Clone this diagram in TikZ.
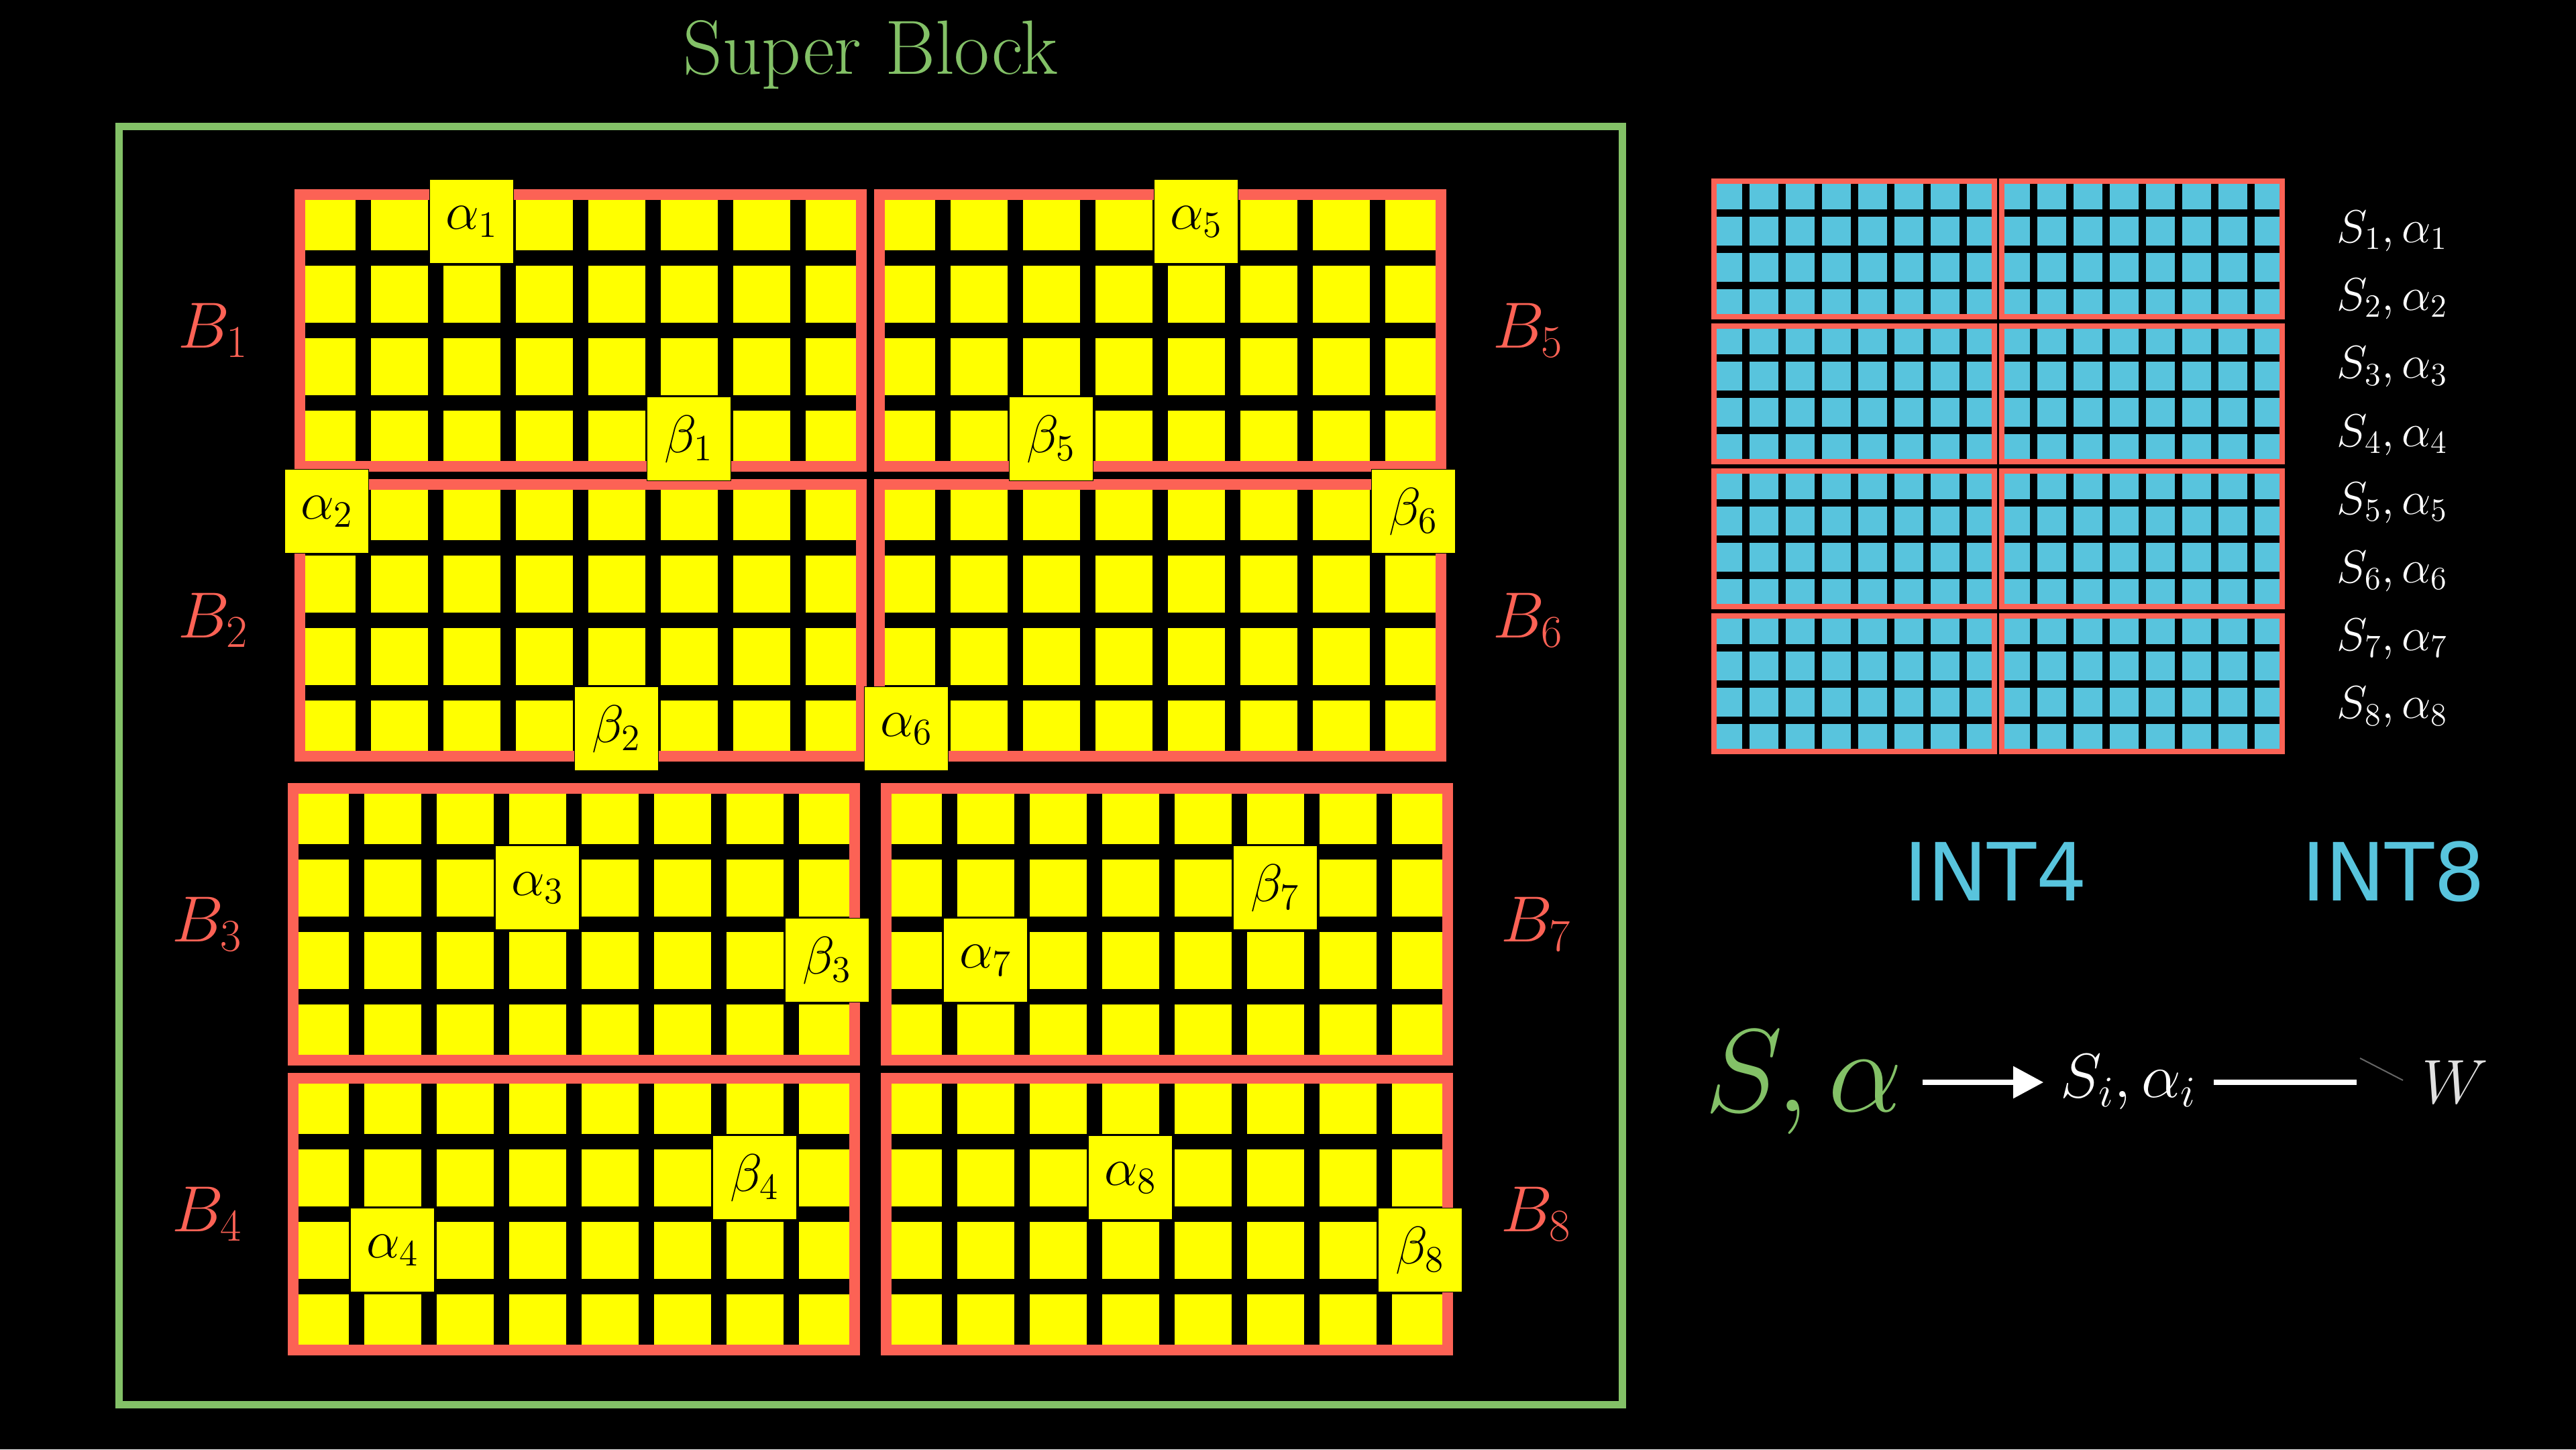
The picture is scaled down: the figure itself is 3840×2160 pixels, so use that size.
\RequirePackage{fix-cm}
\documentclass[tikz,border=0pt]{standalone}
\usepackage{fontspec}
\newfontfamily\intfont{DejaVu Sans}
\usetikzlibrary{arrows.meta,calc}
\definecolor{qgreen}{HTML}{83C167}
\definecolor{qred}{HTML}{FC6255}
\definecolor{qyellow}{HTML}{FFFF00}
\definecolor{qblue}{HTML}{58C4DD}
\tikzset{
  ycell/.style={fill=qyellow},
  ccell/.style={fill=qblue},
  yframe/.style={draw=qred, line width=0.16cm, minimum width=8.37cm, minimum height=4.05cm, inner sep=0pt, outer sep=0pt},
  cframe/.style={draw=qred, line width=0.08cm, minimum width=4.18cm, minimum height=2.02cm, inner sep=0pt, outer sep=0pt},
  lbox/.style={fill=qyellow, draw=black, line width=0.01cm, minimum size=1.25cm, inner sep=0pt, font=\fontsize{22.5}{27}\selectfont},
  blab/.style={text=qred, inner sep=0pt, font=\fontsize{27.6}{33}\selectfont},
  slab/.style={text=white, anchor=base west, inner sep=0pt, font=\fontsize{19.6}{24}\selectfont},
  inttxt/.style={text=qblue, anchor=base, inner sep=0pt, font=\intfont\fontsize{34}{40}\selectfont},
  frm/.style={draw=qgreen, line width=0.11cm, minimum width=22.40cm, minimum height=19.04cm, inner sep=0pt},
  flow/.style={inner sep=0pt},
  wline/.style={white, line width=0.08cm}
}
\newcommand{\ygrid}[3]{%
  \foreach \qc in {0,...,7}{\foreach \qr in {0,...,3}{%
    \fill[ycell] ({#2+\qc*108},{#3+\qr*108}) rectangle ++(85,85);}}
  \node[yframe] (#1) at ({#2+420.5},{#3+204.5}) {};}
\newcommand{\cgrid}[3]{%
  \foreach \qc in {0,...,7}{\foreach \qr in {0,...,3}{%
    \fill[ccell] ({#2+\qc*54},{#3+\qr*54}) rectangle ++(42.5,42.5);}}
  \node[cframe] (#1) at ({#2+210.25},{#3+102.25}) {};}
\newcommand{\qlab}[5]{%
  \node[lbox] (#1) at ($(#2.north west)+({40.5+108*#3},{40.5+108*#4})$) {$#5$};}
\begin{document}
\begin{tikzpicture}[x=0.01cm,y=-0.01cm]
\useasboundingbox (0,0) rectangle (3840,2160);
\fill[black] (0,0) rectangle (3840,2160);

% super block frame and title
\node[frm] (SB) at (1298,1141) {};
\node[anchor=base, text=qgreen, inner sep=0pt, font=\fontsize{32.6}{39}\selectfont] (title) at (1298,110) {Super Block};

% yellow blocks
\ygrid{B1}{445}{288}
\ygrid{B5}{1309}{288}
\ygrid{B2}{445}{720}
\ygrid{B6}{1309}{720}
\ygrid{B3}{435}{1173}
\ygrid{B7}{1319}{1173}
\ygrid{B4}{435}{1605}
\ygrid{B8}{1319}{1605}

% highlighted cells
\qlab{a1}{B1}{2}{0}{\alpha_1}
\qlab{b1}{B1}{5}{3}{\beta_1}
\qlab{a2}{B2}{0}{0}{\alpha_2}
\qlab{b2}{B2}{4}{3}{\beta_2}
\qlab{a3}{B3}{3}{1}{\alpha_3}
\qlab{b3}{B3}{7}{2}{\beta_3}
\qlab{a4}{B4}{1}{2}{\alpha_4}
\qlab{b4}{B4}{6}{1}{\beta_4}
\qlab{a5}{B5}{4}{0}{\alpha_5}
\qlab{b5}{B5}{2}{3}{\beta_5}
\qlab{b6}{B6}{7}{0}{\beta_6}
\qlab{a6}{B6}{0}{3}{\alpha_6}
\qlab{a7}{B7}{1}{2}{\alpha_7}
\qlab{b7}{B7}{5}{1}{\beta_7}
\qlab{a8}{B8}{3}{1}{\alpha_8}
\qlab{b8}{B8}{7}{2}{\beta_8}

% block labels
\node[blab] (lb1) at ($(B1.west)+(-129,0)$) {$B_1$};
\node[blab] (lb2) at ($(B2.west)+(-129,0)$) {$B_2$};
\node[blab] (lb3) at ($(B3.west)+(-128,0)$) {$B_3$};
\node[blab] (lb4) at ($(B4.west)+(-128,0)$) {$B_4$};
\node[blab] (lb5) at ($(B5.east)+(130,0)$) {$B_5$};
\node[blab] (lb6) at ($(B6.east)+(130,0)$) {$B_6$};
\node[blab] (lb7) at ($(B7.east)+(132,0)$) {$B_7$};
\node[blab] (lb8) at ($(B8.east)+(132,0)$) {$B_8$};

% cyan blocks
\cgrid{C1}{2554}{269}
\cgrid{C2}{2983}{269}
\cgrid{C3}{2554}{485}
\cgrid{C4}{2983}{485}
\cgrid{C5}{2554}{701}
\cgrid{C6}{2983}{701}
\cgrid{C7}{2554}{917}
\cgrid{C8}{2983}{917}

% scale list
\foreach \k in {1,...,8}{
  \node[slab] (s\k) at (3483,{361+101.4*(\k-1)}) {$S_{\k}, \alpha_{\k}$};
}

% INT labels
\node[inttxt] (int4) at (2975,1342) {INT4};
\node[inttxt] (int8) at (3568,1342) {INT8};

% bottom flow
\node[flow, text=qgreen, font=\fontsize{50}{60}\selectfont] (SA) at (2689,1613) {$S,\alpha$};
\node[flow, text=white, font=\fontsize{26.5}{32}\selectfont] (Si) at (3173,1613) {$S_i,\alpha_i$};
\node[flow, text=white!88!black, font=\fontsize{26.5}{32}\selectfont] (W) at (3660,1613) {$W$};
\draw[wline, -{Triangle[length=0.45cm, width=0.46cm]}, shorten <=0.29cm, shorten >=0.25cm] (SA) -- (Si);
\draw[wline, shorten <=0.25cm, shorten >=0.97cm] (Si) -- (W);
\coordinate (fa) at (3518,1577);
\coordinate (fb) at (3582,1610);
\draw[black!60, line width=0.02cm] (fa) -- (fb);
\end{tikzpicture}
\end{document}
